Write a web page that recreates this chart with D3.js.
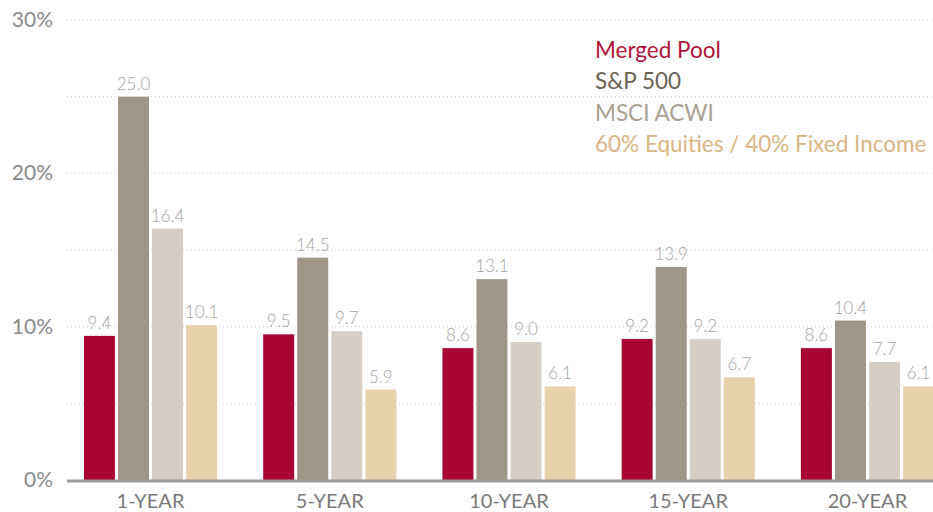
<!DOCTYPE html>
<html>
<head>
<meta charset="utf-8">
<script src="https://cdn.jsdelivr.net/npm/d3@7"></script>
<style>
  body { margin: 0; background: #fff; }
  svg text { font-family: "Source Sans Pro", Lato, "Open Sans", sans-serif; }
</style>
</head>
<body>
<div id="chart"></div>
<script>
const periods = ["1-YEAR", "5-YEAR", "10-YEAR", "15-YEAR", "20-YEAR"];
const seriesNames = ["Merged Pool", "S&P 500", "MSCI ACWI", "60% Equities / 40% Fixed Income"];
const mergedPool = [9.4, 9.5, 8.6, 9.2, 8.6];
const sp500 = [25.0, 14.5, 13.1, 13.9, 10.4];
const msciAcwi = [16.4, 9.7, 9.0, 9.2, 7.7];
const equities6040 = [10.1, 5.9, 6.1, 6.7, 6.1];
const yTicks = [0, 10, 20, 30];
const gridTicks = [5, 10, 15, 20, 25, 30];

const allSeries = [mergedPool, sp500, msciAcwi, equities6040];
const barColors = ["#a80532", "#a09687", "#d6cdc4", "#e8d2ab"];
const legendColors = ["#b0123a", "#6b6254", "#a89f92", "#d9b582"];

const width = 933, height = 512;
const svg = d3.select("#chart").append("svg")
  .attr("width", width).attr("height", height);

const y = d3.scaleLinear().domain([0, 30]).range([480, 20]);
const x0 = d3.scaleBand().domain(periods).range([61, 957]).paddingInner(0.257).paddingOuter(0.128);
const x1 = d3.scaleBand().domain(d3.range(4)).range([0, x0.bandwidth()]).paddingInner(0.09);

// grid
svg.append("g").selectAll("line")
  .data(gridTicks)
  .enter().append("line")
  .attr("x1", 67).attr("x2", width)
  .attr("y1", d => y(d)).attr("y2", d => y(d))
  .attr("stroke", "#c8c8c8")
  .attr("stroke-width", 1)
  .attr("stroke-dasharray", "1,3");

// y tick labels
svg.append("g").selectAll("text")
  .data(yTicks)
  .enter().append("text")
  .attr("x", 53).attr("y", d => y(d) + 7)
  .attr("text-anchor", "end")
  .style("font-size", "21px")
  .style("fill", "#8a8a8a")
  .text(d => d + "%");

// bars
const groups = svg.append("g").selectAll("g")
  .data(periods)
  .enter().append("g")
  .attr("transform", d => "translate(" + x0(d) + ",0)");

groups.selectAll("rect")
  .data((d, i) => allSeries.map((s, k) => ({ k: k, v: s[i] })))
  .enter().append("rect")
  .attr("x", d => x1(d.k))
  .attr("width", x1.bandwidth())
  .attr("y", d => y(d.v))
  .attr("height", d => y(0) - y(d.v))
  .attr("fill", d => barColors[d.k]);

groups.selectAll("text")
  .data((d, i) => allSeries.map((s, k) => ({ k: k, v: s[i] })))
  .enter().append("text")
  .attr("x", d => x1(d.k) + x1.bandwidth() / 2)
  .attr("y", d => y(d.v) - 7)
  .attr("text-anchor", "middle")
  .style("font-size", "17px")
  .style("font-weight", 300)
  .style("fill", "#a3a3a3")
  .text(d => d.v.toFixed(1));

// baseline
svg.append("line")
  .attr("x1", 67).attr("x2", width)
  .attr("y1", y(0) + 1).attr("y2", y(0) + 1)
  .attr("stroke", "#9a9a9a")
  .attr("stroke-width", 3);

// x labels
svg.append("g").selectAll("text")
  .data(periods)
  .enter().append("text")
  .attr("x", d => x0(d) + x0.bandwidth() / 2)
  .attr("y", 508)
  .attr("text-anchor", "middle")
  .style("font-size", "20px")
  .style("fill", "#7a7a7a")
  .text(d => d);

// legend
svg.append("g").selectAll("text")
  .data(seriesNames)
  .enter().append("text")
  .attr("x", 595)
  .attr("y", (d, i) => 58 + i * 31.3)
  .style("font-size", "22.5px")
  .style("fill", (d, i) => legendColors[i])
  .text(d => d);
</script>
</body>
</html>
